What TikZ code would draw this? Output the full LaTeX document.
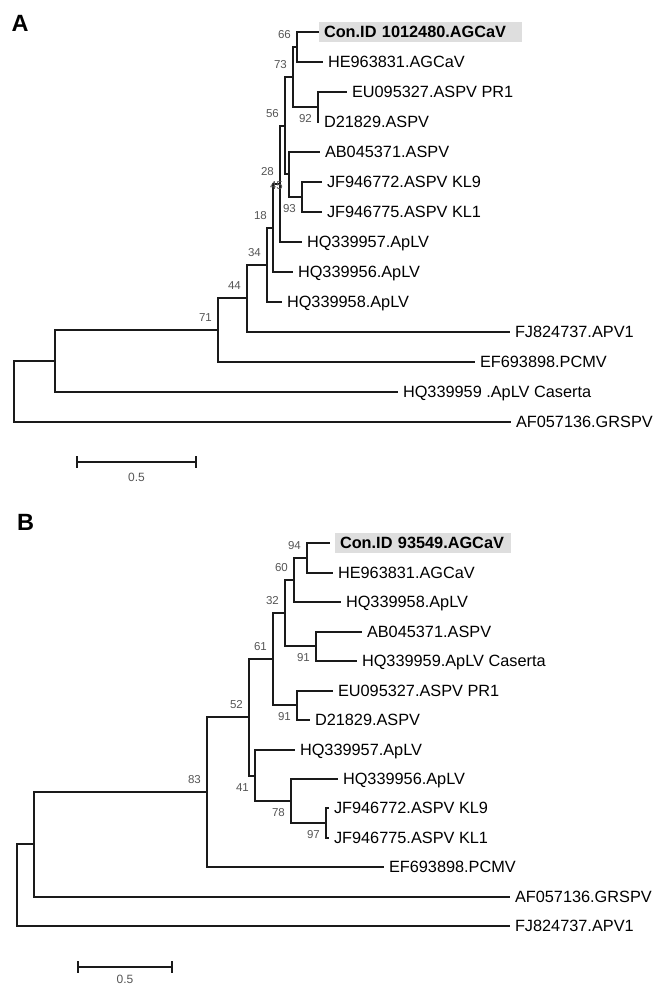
\documentclass[tikz,border=0pt]{standalone}
\usepackage{fontspec}
\setmainfont{Liberation Sans}
\usepackage{tikz}
\definecolor{treeblack}{HTML}{1A1A1A}
\definecolor{bootgray}{HTML}{555555}
\definecolor{hlgray}{HTML}{DEDEDE}

\begin{document}
\begin{tikzpicture}[
    x=1pt,y=-1pt,
    br/.style    = {draw=treeblack,line width=1.8pt},
    leaf/.style  = {anchor=west,inner xsep=5pt,inner ysep=0pt,outer sep=0pt,
                    font=\fontsize{16.3}{18}\selectfont,text height=11.7pt,text depth=0pt},
    hl/.style    = {leaf,fill=hlgray,inner ysep=4pt,align=left,
                    font=\fontsize{16.3}{18}\selectfont\bfseries},
    bs/.style    = {anchor=east,inner sep=0pt,text=bootgray,
                    font=\fontsize{11.5}{13}\selectfont,xshift=-6pt},
    bsu/.style   = {bs,yshift=12pt},
    bsd/.style   = {bs,yshift=-12pt},
    panel/.style = {inner sep=0pt,font=\fontsize{23.5}{26}\selectfont\bfseries},
    sc/.style    = {inner sep=0pt,text=bootgray,font=\fontsize{12}{14}\selectfont},
  ]

  \useasboundingbox (0,0) rectangle (669,999);

  % panel A
  \node[panel] (pa) at (20,23.5) {A};

  \node[hl,text width=193pt] (acon) at (319,32) {Con.ID 1012480.AGCaV};
  \node[leaf] (ahe)   at (323,62)  {HE963831.AGCaV};
  \node[leaf] (aeu)   at (347,92)  {EU095327.ASPV PR1};
  \node[leaf] (ad21)  at (319,122) {D21829.ASPV};
  \node[leaf] (aab)   at (320,152) {AB045371.ASPV};
  \node[leaf] (ajf9)  at (322,182) {JF946772.ASPV KL9};
  \node[leaf] (ajf1)  at (322,212) {JF946775.ASPV KL1};
  \node[leaf] (ahq57) at (302,242) {HQ339957.ApLV};
  \node[leaf] (ahq56) at (293,272) {HQ339956.ApLV};
  \node[leaf] (ahq58) at (282,302) {HQ339958.ApLV};
  \node[leaf] (afj)   at (510,332) {FJ824737.APV1};
  \node[leaf] (aef)   at (475,362) {EF693898.PCMV};
  \node[leaf] (ahq59) at (398,392) {HQ339959 .ApLV Caserta};
  \node[leaf] (aaf)   at (511,422) {AF057136.GRSPV};

  \coordinate (a66)   at (297,47);
  \coordinate (a92)   at (318,107);
  \coordinate (a73)   at (293,77);
  \coordinate (a93)   at (302,197);
  \coordinate (a45)   at (289,174);
  \coordinate (a56)   at (285,126);
  \coordinate (a28)   at (280,184);
  \coordinate (a18)   at (273,228);
  \coordinate (a34)   at (267,265);
  \coordinate (a44)   at (247,298);
  \coordinate (a71)   at (218,330);
  \coordinate (aout)  at (55,361);
  \coordinate (aroot) at (14,392);

  \draw[br] (a66) |- (acon.west);
  \draw[br] (a66) |- (ahe.west);
  \draw[br] (a92) |- (aeu.west);
  \draw[br] (a92) |- (ad21.west);
  \draw[br] (a73) |- (a66);
  \draw[br] (a73) |- (a92);
  \draw[br] (a93) |- (ajf9.west);
  \draw[br] (a93) |- (ajf1.west);
  \draw[br] (a45) |- (aab.west);
  \draw[br] (a45) |- (a93);
  \draw[br] (a56) |- (a73);
  \draw[br] (a56) |- (a45);
  \draw[br] (a28) |- (a56);
  \draw[br] (a28) |- (ahq57.west);
  \draw[br] (a18) |- (a28);
  \draw[br] (a18) |- (ahq56.west);
  \draw[br] (a34) |- (a18);
  \draw[br] (a34) |- (ahq58.west);
  \draw[br] (a44) |- (a34);
  \draw[br] (a44) |- (afj.west);
  \draw[br] (a71) |- (a44);
  \draw[br] (a71) |- (aef.west);
  \draw[br] (aout) |- (a71);
  \draw[br] (aout) |- (ahq59.west);
  \draw[br] (aroot) |- (aout);
  \draw[br] (aroot) |- (aaf.west);

  \node[bsu] (ba66) at (a66) {66};
  \node[bsu] (ba73) at (a73) {73};
  \node[bsd] (ba92) at (a92) {92};
  \node[bsu] (ba56) at (a56) {56};
  \node[bsd] (ba45) at (a45) {45};
  \node[bsd] (ba93) at (a93) {93};
  \node[bsu] (ba28) at (a28) {28};
  \node[bsu] (ba18) at (a18) {18};
  \node[bsu] (ba34) at (a34) {34};
  \node[bsu] (ba44) at (a44) {44};
  \node[bsu] (ba71) at (a71) {71};

  \coordinate (asl) at (77,462);
  \coordinate (asr) at (196,462);
  \draw[br] (asl) -- (asr);
  \draw[br] ([yshift=6pt]asl) -- ([yshift=-6pt]asl);
  \draw[br] ([yshift=6pt]asr) -- ([yshift=-6pt]asr);
  \node[sc] (asc) at (136.5,477) {0.5};

  % panel B
  \node[panel] (pb) at (25.5,522) {B};

  \node[hl,text width=166pt,outer xsep=5pt] (bcon) at (330,543) {Con.ID 93549.AGCaV};
  \node[leaf] (bhe)   at (333,573) {HE963831.AGCaV};
  \node[leaf] (bhq58) at (341,602) {HQ339958.ApLV};
  \node[leaf] (bab)   at (362,632) {AB045371.ASPV};
  \node[leaf] (bhq59) at (357,661) {HQ339959.ApLV Caserta};
  \node[leaf] (beu)   at (333,691) {EU095327.ASPV PR1};
  \node[leaf] (bd21)  at (310,720) {D21829.ASPV};
  \node[leaf] (bhq57) at (295,750) {HQ339957.ApLV};
  \node[leaf] (bhq56) at (338,779) {HQ339956.ApLV};
  \node[leaf] (bjf9)  at (329,808) {JF946772.ASPV KL9};
  \node[leaf] (bjf1)  at (329,838) {JF946775.ASPV KL1};
  \node[leaf] (bef)   at (384,867) {EF693898.PCMV};
  \node[leaf] (baf)   at (510,897) {AF057136.GRSPV};
  \node[leaf] (bfj)   at (510,926) {FJ824737.APV1};

  \coordinate (b94)   at (307,558);
  \coordinate (b60)   at (294,580);
  \coordinate (b91a)  at (316,646);
  \coordinate (b32)   at (285,613);
  \coordinate (b91b)  at (297,705);
  \coordinate (b61)   at (273,659);
  \coordinate (b97)   at (326,823);
  \coordinate (b78)   at (291,801);
  \coordinate (b41)   at (255,776);
  \coordinate (b52)   at (249,717);
  \coordinate (b83)   at (207,792);
  \coordinate (bout)  at (34,844);
  \coordinate (broot) at (17,885);

  \draw[br] (b94) |- (bcon.west);
  \draw[br] (b94) |- (bhe.west);
  \draw[br] (b60) |- (b94);
  \draw[br] (b60) |- (bhq58.west);
  \draw[br] (b91a) |- (bab.west);
  \draw[br] (b91a) |- (bhq59.west);
  \draw[br] (b32) |- (b60);
  \draw[br] (b32) |- (b91a);
  \draw[br] (b91b) |- (beu.west);
  \draw[br] (b91b) |- (bd21.west);
  \draw[br] (b61) |- (b32);
  \draw[br] (b61) |- (b91b);
  \draw[br] (b97) |- (bjf9.west);
  \draw[br] (b97) |- (bjf1.west);
  \draw[br] (b78) |- (bhq56.west);
  \draw[br] (b78) |- (b97);
  \draw[br] (b41) |- (bhq57.west);
  \draw[br] (b41) |- (b78);
  \draw[br] (b52) |- (b61);
  \draw[br] (b52) |- (b41);
  \draw[br] (b83) |- (b52);
  \draw[br] (b83) |- (bef.west);
  \draw[br] (bout) |- (b83);
  \draw[br] (bout) |- (baf.west);
  \draw[br] (broot) |- (bout);
  \draw[br] (broot) |- (bfj.west);

  \node[bsu] (bb94)  at (b94)  {94};
  \node[bsu] (bb60)  at (b60)  {60};
  \node[bsu] (bb32)  at (b32)  {32};
  \node[bsd] (bb91a) at (b91a) {91};
  \node[bsu] (bb61)  at (b61)  {61};
  \node[bsd] (bb91b) at (b91b) {91};
  \node[bsu] (bb52)  at (b52)  {52};
  \node[bsd] (bb41)  at (b41)  {41};
  \node[bsd] (bb78)  at (b78)  {78};
  \node[bsd] (bb97)  at (b97)  {97};
  \node[bsu] (bb83)  at (b83)  {83};

  \coordinate (bsl) at (78,967);
  \coordinate (bsr) at (172,967);
  \draw[br] (bsl) -- (bsr);
  \draw[br] ([yshift=6pt]bsl) -- ([yshift=-6pt]bsl);
  \draw[br] ([yshift=6pt]bsr) -- ([yshift=-6pt]bsr);
  \node[sc] (bsc) at (125,979) {0.5};

\end{tikzpicture}
\end{document}
